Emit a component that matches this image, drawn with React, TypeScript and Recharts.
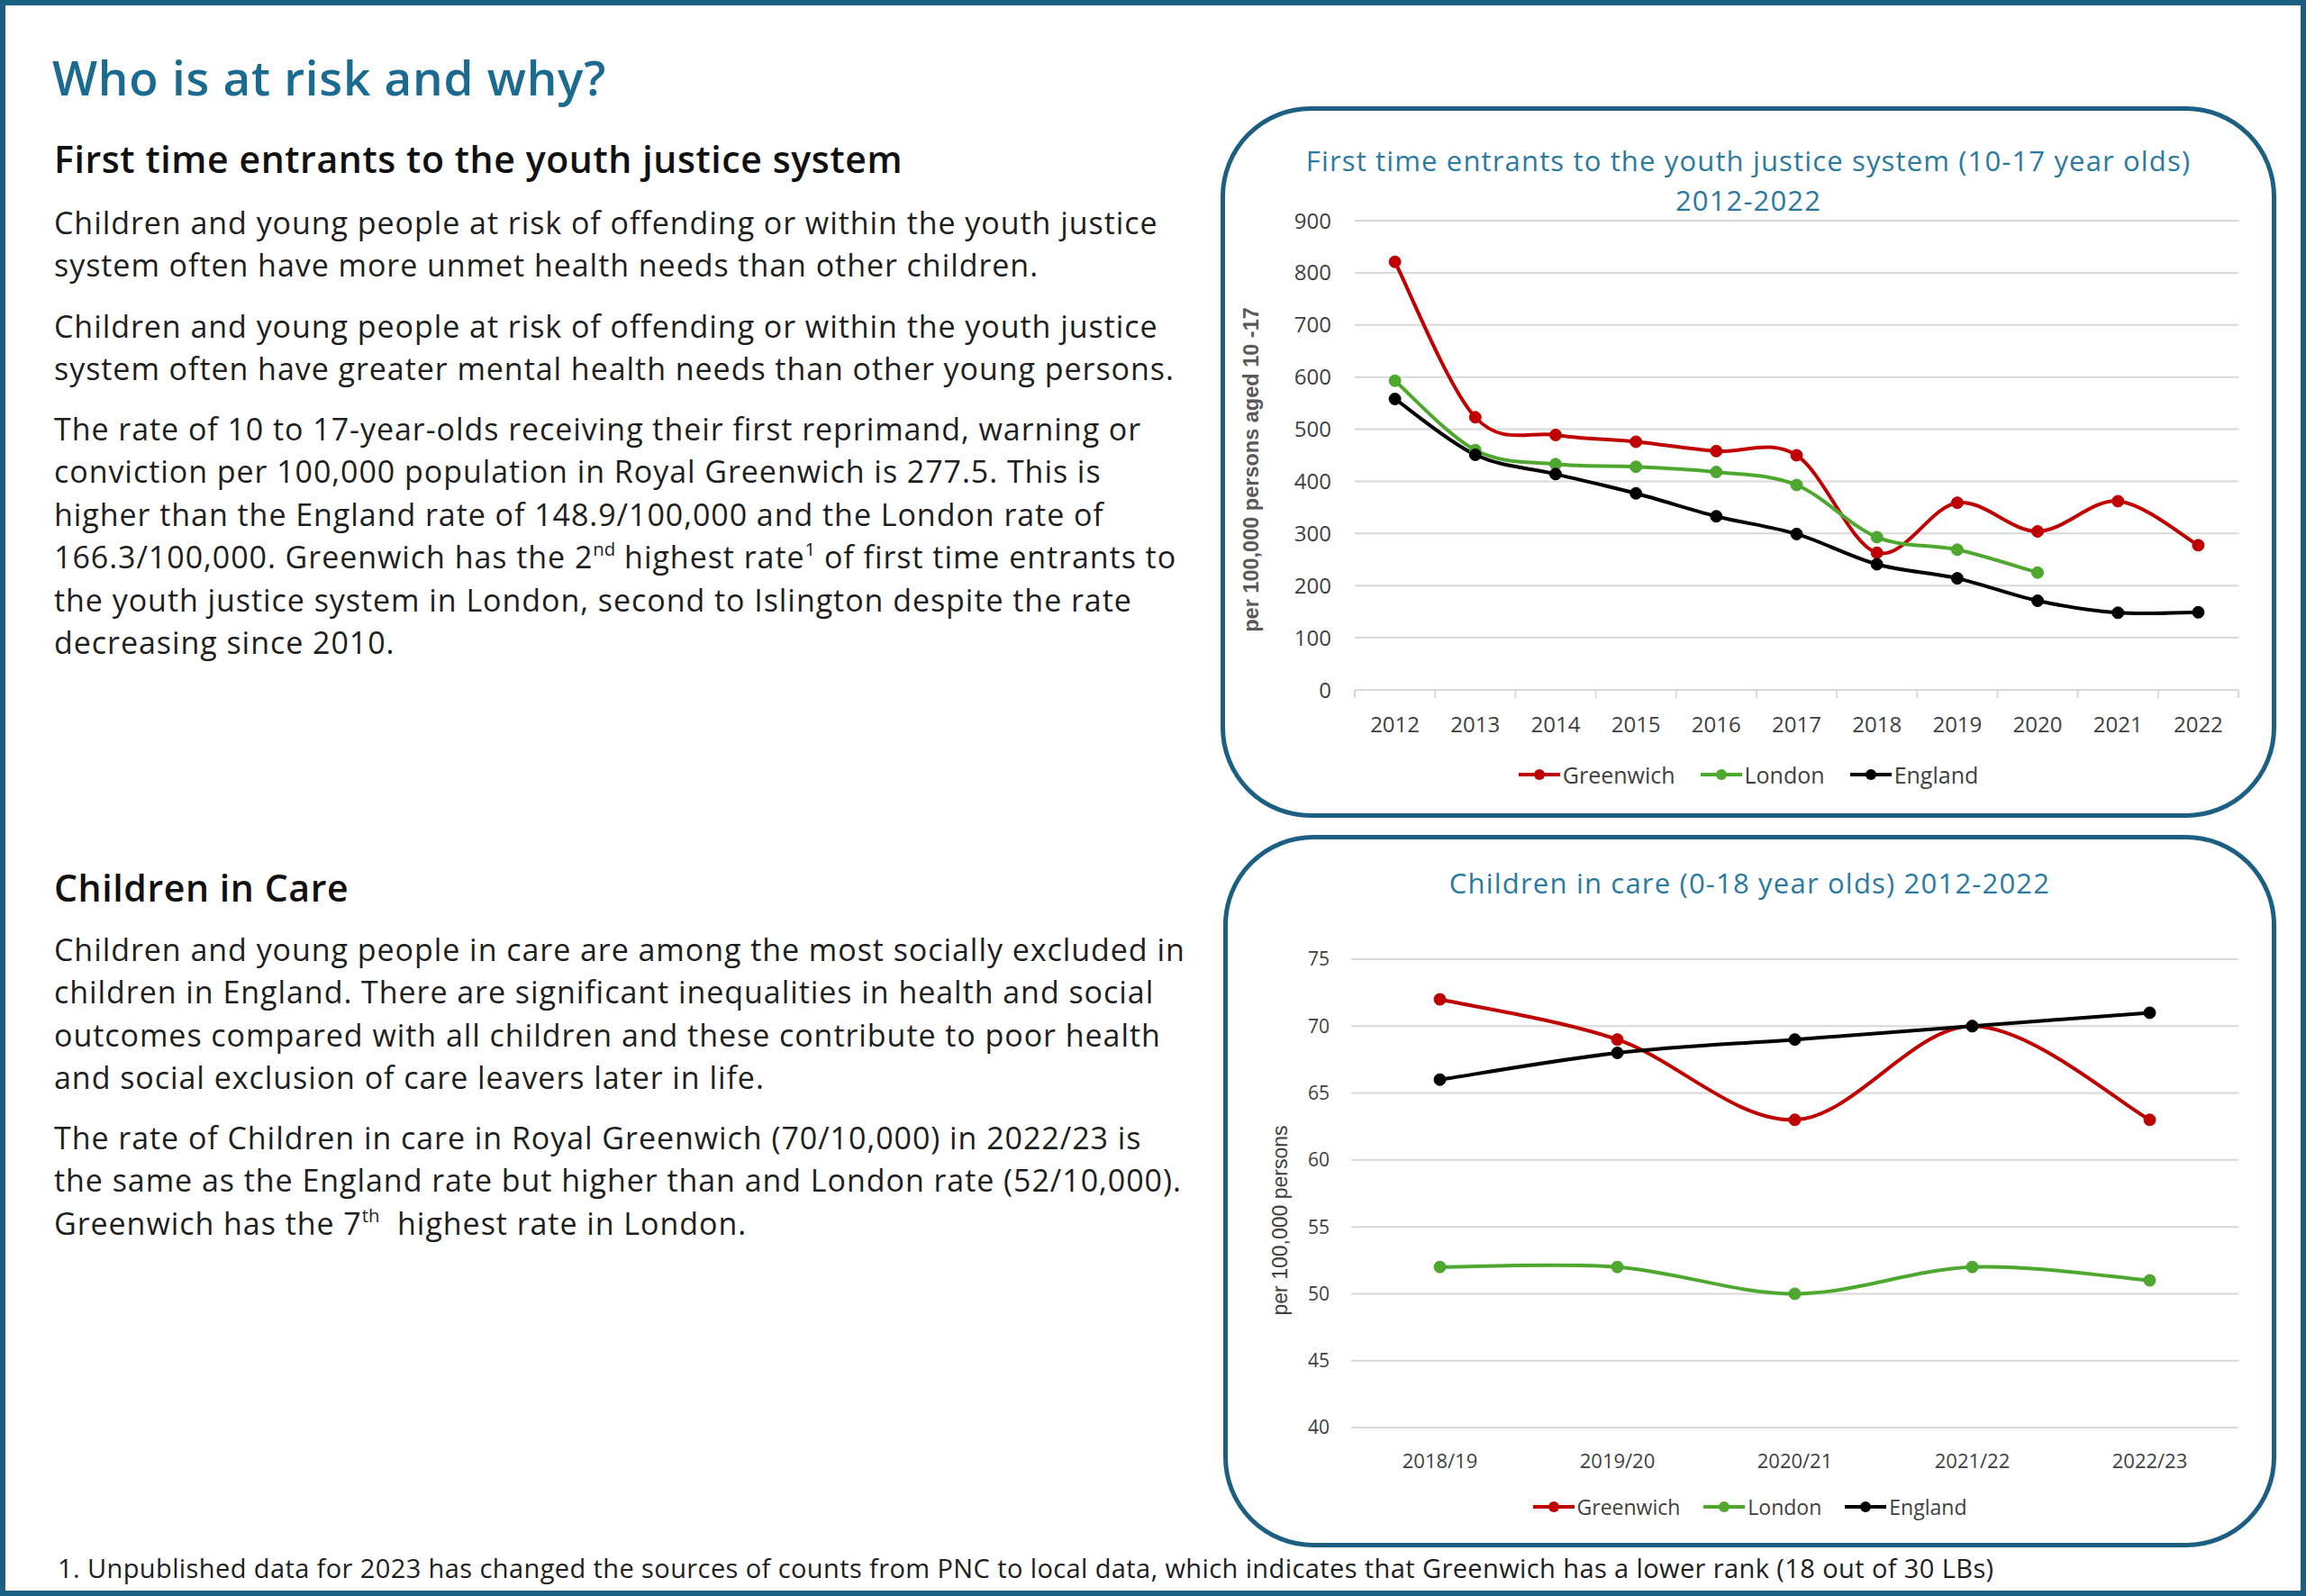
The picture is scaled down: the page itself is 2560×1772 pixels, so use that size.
import React from "react";
import { LineChart, Line, XAxis, YAxis, CartesianGrid, Legend } from "recharts";

// First time entrants, rate per 100,000 aged 10-17
const years = ["2012", "2013", "2014", "2015", "2016", "2017", "2018", "2019", "2020", "2021", "2022"];
const fteGreenwich = [821, 523, 489, 476, 458, 450, 263, 359, 304, 362, 277.5];
const fteLondon = [593, 460, 433, 428, 418, 393, 293, 269, 225, null, null];
const fteEngland = [558, 451, 414, 377, 333, 299, 241, 214, 171, 148, 148.9];
const fteTicks = [0, 100, 200, 300, 400, 500, 600, 700, 800, 900];

// Children in care
const careYears = ["2018/19", "2019/20", "2020/21", "2021/22", "2022/23"];
const careGreenwich = [72, 69, 63, 70, 63];
const careLondon = [52, 52, 50, 52, 51];
const careEngland = [66, 68, 69, 70, 71];
const careTicks = [40, 45, 50, 55, 60, 65, 70, 75];

const fteData = years.map((year, i) => ({
  year,
  Greenwich: fteGreenwich[i],
  London: fteLondon[i],
  England: fteEngland[i],
}));

const careData = careYears.map((year, i) => ({
  year,
  Greenwich: careGreenwich[i],
  London: careLondon[i],
  England: careEngland[i],
}));

const RED = "#c00000";
const GREEN = "#4ea72e";
const BLACK = "#000000";
const FRAME = "#1d5f82";
const HEADING = "#1b6a8f";
const CHART_TITLE = "#2a7aa0";
const GRID = "#d9d9d9";
const TICK = "#404040";
const FONT = "'Open Sans', sans-serif";

// excel-like smoothed line (catmull-rom through the points)
function smoothCurve(context: any) {
  let pts: number[][] = [];
  return {
    areaStart() {},
    areaEnd() {},
    lineStart() {
      pts = [];
    },
    point(x: number, y: number) {
      pts.push([+x, +y]);
    },
    lineEnd() {
      const n = pts.length;
      if (n === 0) return;
      context.moveTo(pts[0][0], pts[0][1]);
      for (let i = 0; i < n - 1; i++) {
        const p0 = pts[i - 1] || pts[i];
        const p1 = pts[i];
        const p2 = pts[i + 1];
        const p3 = pts[i + 2] || p2;
        context.bezierCurveTo(
          p1[0] + (p2[0] - p0[0]) / 6,
          p1[1] + (p2[1] - p0[1]) / 6,
          p2[0] - (p3[0] - p1[0]) / 6,
          p2[1] - (p3[1] - p1[1]) / 6,
          p2[0],
          p2[1]
        );
      }
    },
  };
}

function LegendRow({ payload, fontSize, iconWidth, gap }: any) {
  return (
    <div
      style={{
        display: "flex",
        justifyContent: "center",
        alignItems: "center",
        height: "100%",
        fontFamily: FONT,
      }}
    >
      {(payload || []).map((item: any) => (
        <div key={item.value} style={{ display: "flex", alignItems: "center", margin: `0 ${gap / 2}px` }}>
          <svg width={iconWidth} height={16}>
            <line x1={0} x2={iconWidth} y1={8} y2={8} stroke={item.color} strokeWidth={4} />
            <circle cx={iconWidth / 2} cy={8} r={6} fill={item.color} />
          </svg>
          <span style={{ fontSize, color: TICK, marginLeft: 3 }}>{item.value}</span>
        </div>
      ))}
    </div>
  );
}

function AxisTitle({ viewBox, text, dx, dy, fontSize, fontWeight, fill, fontFamily }: any) {
  const vb = viewBox || { x: 0, y: 0, width: 0, height: 0 };
  const x = vb.x + dx;
  const y = vb.y + vb.height / 2 + dy;
  return (
    <text
      x={x}
      y={y}
      transform={`rotate(-90, ${x}, ${y})`}
      textAnchor="middle"
      dominantBaseline="central"
      fontSize={fontSize}
      fontWeight={fontWeight}
      fill={fill}
      fontFamily={fontFamily}
    >
      {text}
    </text>
  );
}

function YearTick({ x, y, payload, index, visibleTicksCount, drawMarks, labelOffset, fontSize }: any) {
  const half = payload && payload.offset ? payload.offset : 0;
  const last = index === visibleTicksCount - 1;
  return (
    <g>
      {drawMarks && half > 0 && (
        <line x1={x - half} x2={x - half} y1={y} y2={y + 9} stroke={GRID} strokeWidth={2} />
      )}
      {drawMarks && half > 0 && last && (
        <line x1={x + half} x2={x + half} y1={y} y2={y + 9} stroke={GRID} strokeWidth={2} />
      )}
      <text
        x={x}
        y={y + labelOffset}
        textAnchor="middle"
        dominantBaseline="central"
        fontSize={fontSize}
        fill={TICK}
        fontFamily={FONT}
      >
        {payload.value}
      </text>
    </g>
  );
}

function ChartBox({ left, top, width, height }: any) {
  return (
    <div
      style={{
        position: "absolute",
        left,
        top,
        width,
        height,
        boxSizing: "border-box",
        border: `5px solid ${FRAME}`,
        borderRadius: 100,
      }}
    />
  );
}

const bodyStyle: React.CSSProperties = {
  position: "absolute",
  left: 60,
  fontSize: 34,
  letterSpacing: "0.95px",
  lineHeight: "47.4px",
  color: "#1e1e1e",
  whiteSpace: "nowrap",
};

const subHeadStyle: React.CSSProperties = {
  position: "absolute",
  left: 60,
  fontSize: 41,
  fontWeight: 600,
  letterSpacing: "0.6px",
  color: "#111",
  lineHeight: "48px",
  whiteSpace: "nowrap",
};

const supStyle: React.CSSProperties = { fontSize: "0.6em", lineHeight: 0, verticalAlign: "0.7em", letterSpacing: 0 };

const dotStyle = (c: string) => ({ r: 6.5, fill: c, stroke: c, strokeWidth: 1 });

export default function App() {
  return (
    <div
      style={{
        position: "absolute",
        left: 0,
        top: 0,
        width: 2560,
        height: 1772,
        background: "#ffffff",
        fontFamily: FONT,
        overflow: "hidden",
      }}
    >
      <div
        style={{
          position: "absolute",
          inset: 0,
          boxSizing: "border-box",
          border: `6px solid ${FRAME}`,
          pointerEvents: "none",
        }}
      />

      <div
        style={{
          position: "absolute",
          left: 58,
          top: 55,
          fontSize: 53,
          fontWeight: 600,
          letterSpacing: "0.75px",
          color: HEADING,
          lineHeight: "62px",
          whiteSpace: "nowrap",
        }}
      >
        Who is at risk and why?
      </div>

      <div style={{ ...subHeadStyle, top: 152 }}>First time entrants to the youth justice system</div>

      <div style={{ ...bodyStyle, top: 224 }}>
        Children and young people at risk of offending or within the youth justice
        <br />
        system often have more unmet health needs than other children.
      </div>

      <div style={{ ...bodyStyle, top: 339 }}>
        Children and young people at risk of offending or within the youth justice
        <br />
        system often have greater mental health needs than other young persons.
      </div>

      <div style={{ ...bodyStyle, top: 453 }}>
        The rate of 10 to 17-year-olds receiving their first reprimand, warning or
        <br />
        conviction per 100,000 population in Royal Greenwich is 277.5. This is
        <br />
        higher than the England rate of 148.9/100,000 and the London rate of
        <br />
        166.3/100,000. Greenwich has the 2<sup style={supStyle}>nd</sup> highest rate<sup style={supStyle}>1</sup> of first time entrants to
        <br />
        the youth justice system in London, second to Islington despite the rate
        <br />
        decreasing since 2010.
      </div>

      <div style={{ ...subHeadStyle, top: 961 }}>Children in Care</div>

      <div style={{ ...bodyStyle, top: 1031 }}>
        Children and young people in care are among the most socially excluded in
        <br />
        children in England. There are significant inequalities in health and social
        <br />
        outcomes compared with all children and these contribute to poor health
        <br />
        and social exclusion of care leavers later in life.
      </div>

      <div style={{ ...bodyStyle, top: 1240 }}>
        The rate of Children in care in Royal Greenwich (70/10,000) in 2022/23 is
        <br />
        the same as the England rate but higher than and London rate (52/10,000).
        <br />
        Greenwich has the 7<sup style={supStyle}>th</sup>&nbsp; highest rate in London.
      </div>

      <div
        style={{
          position: "absolute",
          left: 64,
          top: 1722,
          fontSize: 29,
          letterSpacing: "0.4px",
          lineHeight: "38px",
          color: "#1e1e1e",
          whiteSpace: "nowrap",
        }}
      >
        1. Unpublished data for 2023 has changed the sources of counts from PNC to local data, which indicates that Greenwich has a lower rank (18 out of 30 LBs)
      </div>

      {/* chart 1 */}
      <ChartBox left={1355} top={118} width={1172} height={790} />
      <div
        style={{
          position: "absolute",
          left: 1355,
          top: 156,
          width: 1172,
          textAlign: "center",
          fontSize: 31,
          letterSpacing: "1.15px",
          lineHeight: "44px",
          color: CHART_TITLE,
        }}
      >
        First time entrants to the youth justice system (10-17 year olds)
        <br />
        2012-2022
      </div>
      <div style={{ position: "absolute", left: 1355, top: 118 }}>
        <LineChart width={1172} height={790} data={fteData} margin={{ top: 127, right: 42, left: 0, bottom: 28 }}>
          <CartesianGrid horizontal vertical={false} stroke={GRID} strokeWidth={2} />
          <XAxis
            dataKey="year"
            scale="band"
            height={74}
            tickSize={0}
            tickMargin={0}
            interval={0}
            axisLine={{ stroke: GRID, strokeWidth: 2 }}
            tickLine={false}
            tick={<YearTick drawMarks labelOffset={37} fontSize={24} />}
          />
          <YAxis
            width={149}
            domain={[0, 900]}
            ticks={fteTicks}
            interval={0}
            tickSize={0}
            tickMargin={26}
            axisLine={false}
            tickLine={false}
            tick={{ fontSize: 24, fill: TICK, fontFamily: FONT }}
            label={
              <AxisTitle
                text="per 100,000 persons aged 10 -17"
                dx={34}
                dy={16}
                fontSize={23.5}
                fontWeight={700}
                fill="#595959"
                fontFamily="'Liberation Sans', Arial, sans-serif"
              />
            }
          />
          <Legend
            verticalAlign="bottom"
            height={40}
            width={1172}
            itemSorter={null}
            wrapperStyle={{ left: 0, height: 40 }}
            content={<LegendRow fontSize={25} iconWidth={46} gap={28} />}
          />
          <Line dataKey="Greenwich" name="Greenwich" type={smoothCurve as any} stroke={RED} strokeWidth={4} dot={dotStyle(RED)} activeDot={false} isAnimationActive={false} />
          <Line dataKey="London" name="London" type={smoothCurve as any} stroke={GREEN} strokeWidth={4} dot={dotStyle(GREEN)} activeDot={false} isAnimationActive={false} />
          <Line dataKey="England" name="England" type={smoothCurve as any} stroke={BLACK} strokeWidth={4} dot={dotStyle(BLACK)} activeDot={false} isAnimationActive={false} />
        </LineChart>
      </div>

      {/* chart 2 */}
      <ChartBox left={1358} top={927} width={1169} height={791} />
      <div
        style={{
          position: "absolute",
          left: 1358,
          top: 958,
          width: 1169,
          textAlign: "center",
          fontSize: 31,
          letterSpacing: "1.2px",
          lineHeight: "44px",
          color: CHART_TITLE,
        }}
      >
        Children in care (0-18 year olds) 2012-2022
      </div>
      <div style={{ position: "absolute", left: 1358, top: 927 }}>
        <LineChart width={1169} height={791} data={careData} margin={{ top: 138, right: 42, left: 0, bottom: 25 }}>
          <CartesianGrid horizontal vertical={false} stroke={GRID} strokeWidth={2} />
          <XAxis
            dataKey="year"
            scale="band"
            height={68}
            tickSize={0}
            tickMargin={0}
            interval={0}
            axisLine={false}
            tickLine={false}
            tick={<YearTick drawMarks={false} labelOffset={36} fontSize={22} />}
          />
          <YAxis
            width={142}
            domain={[40, 75]}
            ticks={careTicks}
            interval={0}
            tickSize={0}
            tickMargin={24}
            axisLine={false}
            tickLine={false}
            tick={{ fontSize: 21, fill: TICK, fontFamily: FONT }}
            label={
              <AxisTitle
                text="per 100,000 persons"
                dx={63}
                dy={30}
                fontSize={23}
                fontWeight={400}
                fill={TICK}
                fontFamily="'Liberation Sans', Arial, sans-serif"
              />
            }
          />
          <Legend
            verticalAlign="bottom"
            height={40}
            width={1169}
            itemSorter={null}
            wrapperStyle={{ left: 0, height: 40 }}
            content={<LegendRow fontSize={23} iconWidth={46} gap={26} />}
          />
          <Line dataKey="Greenwich" name="Greenwich" type={smoothCurve as any} stroke={RED} strokeWidth={4} dot={dotStyle(RED)} activeDot={false} isAnimationActive={false} />
          <Line dataKey="London" name="London" type={smoothCurve as any} stroke={GREEN} strokeWidth={4} dot={dotStyle(GREEN)} activeDot={false} isAnimationActive={false} />
          <Line dataKey="England" name="England" type={smoothCurve as any} stroke={BLACK} strokeWidth={4} dot={dotStyle(BLACK)} activeDot={false} isAnimationActive={false} />
        </LineChart>
      </div>
    </div>
  );
}
